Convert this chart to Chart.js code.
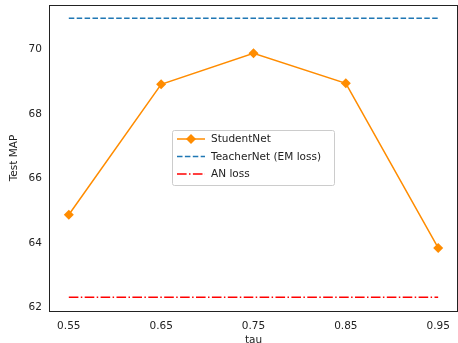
<!DOCTYPE html>
<html>
<head>
<meta charset="utf-8">
<script src="https://cdn.jsdelivr.net/npm/chart.js@4"></script>
<style>
  html, body { margin: 0; padding: 0; background: #fff; }
  #wrap { width: 458px; height: 343px; }
</style>
</head>
<body>
<div id="wrap"><canvas id="chart" width="458" height="343"></canvas></div>
<script>
// values
const tau = [0.55, 0.65, 0.75, 0.85, 0.95];
const studentNet = [64.87, 68.92, 69.88, 68.95, 63.84];
const teacherNet = [70.97, 70.97, 70.97, 70.97, 70.97];
const anLoss = [62.31, 62.31, 62.31, 62.31, 62.31];
const yTicks = [62, 64, 66, 68, 70];

const toPoints = (ys) => tau.map((x, i) => ({ x: x, y: ys[i] }));

// full box round the plot area (matplotlib spines)
const frame = {
  id: "frame",
  afterDatasetsDraw(chart) {
    const a = chart.chartArea;
    const ctx = chart.ctx;
    ctx.save();
    ctx.strokeStyle = "#222";
    ctx.lineWidth = 1;
    ctx.strokeRect(Math.round(a.left) - 0.5, Math.round(a.top) + 0.5,
      Math.round(a.right - a.left) + 1, Math.round(a.bottom - a.top));
    ctx.restore();
  },
};

// legend box drawn in the middle of the plot, like matplotlib's loc="center"
const legendBox = {
  id: "legendBox",
  afterDraw(chart) {
    const ctx = chart.ctx;
    const x0 = 172.5, y0 = 130.5, w = 162, h = 55;
    ctx.save();
    ctx.fillStyle = "rgba(255,255,255,0.8)";
    ctx.strokeStyle = "#cccccc";
    ctx.lineWidth = 1;
    ctx.beginPath();
    ctx.roundRect(x0, y0, w, h, 2);
    ctx.fill();
    ctx.stroke();

    const items = [
      { label: "StudentNet", color: "#ff8c00", dash: [], marker: true },
      { label: "TeacherNet (EM loss)", color: "#1f77b4", dash: [5.5, 2.4] },
      { label: "AN loss", color: "red", dash: [9.6, 2.4, 1.5, 2.4] },
    ];
    ctx.font = "10.5px 'DejaVu Sans'";
    ctx.textBaseline = "middle";
    items.forEach((it, i) => {
      const y = 139 + i * 17.5;
      ctx.strokeStyle = it.color;
      ctx.lineWidth = 1.5;
      ctx.setLineDash(it.dash);
      ctx.beginPath();
      ctx.moveTo(177, y);
      ctx.lineTo(205, y);
      ctx.stroke();
      ctx.setLineDash([]);
      if (it.marker) {
        ctx.fillStyle = it.color;
        ctx.beginPath();
        ctx.moveTo(191, y - 5);
        ctx.lineTo(196, y);
        ctx.lineTo(191, y + 5);
        ctx.lineTo(186, y);
        ctx.closePath();
        ctx.fill();
      }
      ctx.fillStyle = "#222";
      ctx.fillText(it.label, 211, y + 0.5);
    });
    ctx.restore();
  },
};

new Chart(document.getElementById("chart"), {
  type: "line",
  data: {
    datasets: [
      {
        label: "StudentNet",
        data: toPoints(studentNet),
        borderColor: "#ff8c00",
        backgroundColor: "#ff8c00",
        borderWidth: 1.5,
        pointStyle: "rectRot",
        pointRadius: 5,
        pointHoverRadius: 5,
        pointBorderWidth: 0,
        tension: 0,
      },
      {
        label: "TeacherNet (EM loss)",
        data: toPoints(teacherNet),
        borderColor: "#1f77b4",
        borderWidth: 1.5,
        borderDash: [5.5, 2.4],
        pointRadius: 0,
      },
      {
        label: "AN loss",
        data: toPoints(anLoss),
        borderColor: "red",
        borderWidth: 1.5,
        borderDash: [9.6, 2.4, 1.5, 2.4],
        pointRadius: 0,
      },
    ],
  },
  options: {
    responsive: false,
    animation: false,
    layout: { autoPadding: false, padding: { left: 8, right: 1, top: 5, bottom: 0 } },
    plugins: {
      legend: { display: false },
      tooltip: { enabled: false },
    },
    scales: {
      x: {
        type: "linear",
        min: 0.5296,
        max: 0.9704,
        afterBuildTicks: (axis) => {
          axis.ticks = tau.map((v) => ({ value: v }));
        },
        afterFit: (axis) => {
          axis.paddingLeft = 0;
          axis.paddingRight = 0;
        },
        grid: { display: false, drawTicks: true, tickLength: 4, tickColor: "#222" },
        border: { color: "#222", width: 1 },
        ticks: {
          color: "#222",
          font: { family: "DejaVu Sans", size: 10.5 },
          padding: 5,
          maxRotation: 0,
          callback: (v) => v.toFixed(2),
        },
        title: {
          display: true,
          text: "tau",
          color: "#222",
          font: { family: "DejaVu Sans", size: 10.5, lineHeight: 0.5 },
          padding: { top: 0, bottom: 0 },
        },
      },
      y: {
        min: 61.88,
        max: 71.38,
        afterBuildTicks: (axis) => {
          axis.ticks = yTicks.map((v) => ({ value: v }));
        },
        afterFit: (axis) => {
          axis.paddingTop = 0;
          axis.paddingBottom = 0;
        },
        grid: { display: false, drawTicks: true, tickLength: 4, tickColor: "#222" },
        border: { color: "#222", width: 1 },
        ticks: {
          color: "#222",
          font: { family: "DejaVu Sans", size: 10.5 },
          padding: 4,
        },
        title: {
          display: true,
          text: "Test MAP",
          color: "#222",
          font: { family: "DejaVu Sans", size: 10.5 },
          padding: { top: 0, bottom: 4 },
        },
      },
    },
  },
  plugins: [frame, legendBox],
});
</script>
</body>
</html>
